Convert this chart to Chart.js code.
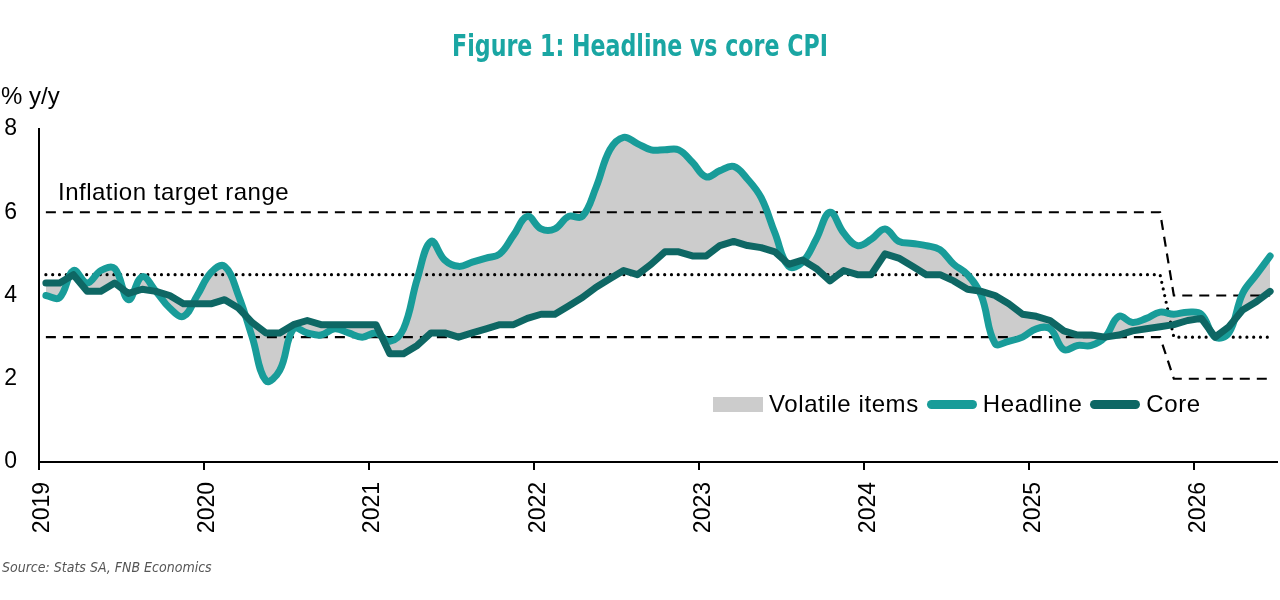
<!DOCTYPE html>
<html>
<head>
<meta charset="utf-8">
<title>Figure 1: Headline vs core CPI</title>
<script src="https://cdn.jsdelivr.net/npm/chart.js@4.4.1/dist/chart.umd.min.js"></script>
<style>
  html, body { margin: 0; padding: 0; background: #fff; }
  body { width: 1280px; height: 600px; position: relative; overflow: hidden;
         font-family: "Liberation Sans", Arial, sans-serif; color: #000; }
  #chart { position: absolute; left: 0; top: 0; width: 1280px; height: 600px; }
  .txt { position: absolute; line-height: 1; white-space: nowrap; }
  .title { left: 0; width: 1280px; top: 31px; text-align: center; font-size: 30px; font-weight: bold;
           font-family: "Liberation Sans Narrow", "DejaVu Sans Condensed", sans-serif; color: #1aa6a3;
           transform: scaleX(0.82); transform-origin: 640px 0; }
  .unit { left: 1px; top: 84px; font-size: 24px; }
  .note { left: 58px; top: 180px; font-size: 24px; letter-spacing: 0.5px; }
  .source { left: 2px; top: 560px; font-size: 14px; font-style: italic; color: #555;
            font-family: "Liberation Sans Narrow", "DejaVu Sans Condensed", sans-serif; }
  #legend { position: absolute; left: 713px; top: 392px; display: flex; align-items: center;
            font-size: 24px; letter-spacing: 0.6px; line-height: 1; }
  #legend .item { display: flex; align-items: center; margin-right: 8px; }
  #legend .icon { width: 50px; margin-right: 6px; }
  #legend .box { height: 15px; }
  #legend .line { height: 9px; border-radius: 5px; }
</style>
</head>
<body>
<canvas id="chart" width="1280" height="600"></canvas>
<div class="txt title">Figure 1: Headline vs core CPI</div>
<div class="txt unit">% y/y</div>
<div class="txt note">Inflation target range</div>
<div class="txt source">Source: Stats SA, FNB Economics</div>
<div id="legend"></div>
<script>
"use strict";

// x axis labels, one per January (monthly data from Jan 2019 to Jun 2026)
const years = ["2019", "2020", "2021", "2022", "2023", "2024", "2025", "2026"];

// Headline CPI, % y/y
const headline = [
    4.0, 3.95, 4.6, 4.3, 4.6, 4.65, 3.9, 4.45, 4.1, 3.7, 3.5, 4.0,
    4.55, 4.7, 4.0, 3.0, 1.95, 2.2, 3.2, 3.1, 3.05, 3.2, 3.1, 3.0,
    3.1, 2.9, 3.2, 4.4, 5.3, 4.85, 4.7, 4.8, 4.9, 5.0, 5.45, 5.9,
    5.6, 5.6, 5.9, 5.9, 6.6, 7.5, 7.8, 7.65, 7.5, 7.5, 7.5, 7.2,
    6.85, 7.0, 7.1, 6.8, 6.35, 5.5, 4.7, 4.8, 5.35, 6.0, 5.5, 5.2,
    5.35, 5.6, 5.3, 5.25, 5.2, 5.1, 4.75, 4.5, 4.0, 2.85, 2.9, 3.0,
    3.2, 3.2, 2.7, 2.8, 2.8, 3.0, 3.5, 3.35, 3.45, 3.6, 3.55, 3.6,
    3.55, 3.0, 3.1, 4.05, 4.5, 4.95
];

// Core CPI, % y/y
const core = [
    4.3, 4.3, 4.5, 4.1, 4.1, 4.3, 4.05, 4.15, 4.1, 4.0, 3.8, 3.8,
    3.8, 3.9, 3.7, 3.35, 3.1, 3.1, 3.3, 3.4, 3.3, 3.3, 3.3, 3.3,
    3.3, 2.6, 2.6, 2.8, 3.1, 3.1, 3.0, 3.1, 3.2, 3.3, 3.3, 3.45,
    3.55, 3.55, 3.75, 3.95, 4.2, 4.4, 4.6, 4.5, 4.75, 5.05, 5.05, 4.95,
    4.95, 5.2, 5.3, 5.2, 5.15, 5.05, 4.75, 4.85, 4.65, 4.35, 4.6, 4.5,
    4.5, 5.0, 4.9, 4.7, 4.5, 4.5, 4.35, 4.15, 4.1, 4.0, 3.8, 3.55,
    3.5, 3.4, 3.15, 3.05, 3.05, 3.0, 3.05, 3.15, 3.2, 3.25, 3.3, 3.4,
    3.45, 3.0, 3.25, 3.65, 3.85, 4.1
];

// Inflation target regimes: month index where each starts, and its band
const targetStart = [0, 82];
const targetLow = [3, 2];
const targetMid = [4.5, 3];
const targetHigh = [6, 4];

const HEADLINE_COLOR = "#189c99";
const CORE_COLOR = "#0e6764";
const VOLATILE_COLOR = "#cccccc";
const FONT = "'Liberation Sans', Arial, sans-serif";

// each monthly value sits in the middle of its month
const toPoints = (values) => values.map((v, i) => ({ x: i + 0.5, y: v }));

function targetSeries(band) {
    return headline.map((v, i) => {
        let k = 0;
        targetStart.forEach((start, r) => { if (i >= start) k = r; });
        return { x: i + 0.5, y: band[k] };
    });
}

const flat = { pointRadius: 0, pointHoverRadius: 0, tension: 0, fill: false };

const ctx = document.getElementById("chart").getContext("2d");
const chart = new Chart(ctx, {
    type: "line",
    data: {
        datasets: [
            { label: "Core", data: toPoints(core), borderColor: CORE_COLOR, borderWidth: 7,
              borderJoinStyle: "round", borderCapStyle: "round", order: 0, ...flat },
            { label: "Headline", data: toPoints(headline), borderColor: HEADLINE_COLOR, borderWidth: 7,
              borderJoinStyle: "round", borderCapStyle: "round", pointRadius: 0, pointHoverRadius: 0,
              tension: 0.4, fill: { target: 0 }, backgroundColor: VOLATILE_COLOR, order: 1 },
            { label: "Upper", data: targetSeries(targetHigh), borderColor: "#000", borderWidth: 2.2,
              borderDash: [10, 7], order: 3, ...flat },
            { label: "Mid", data: targetSeries(targetMid), borderColor: "#000", borderWidth: 3.2,
              borderDash: [0, 6.8], borderCapStyle: "round", order: 3, ...flat },
            { label: "Lower", data: targetSeries(targetLow), borderColor: "#000", borderWidth: 2.2,
              borderDash: [10, 7], order: 3, ...flat }
        ]
    },
    options: {
        responsive: false,
        animation: false,
        events: [],
        layout: { padding: { top: 129, right: 3, bottom: 48, left: 0 } },
        plugins: {
            legend: { display: false },
            tooltip: { enabled: false },
            title: { display: false },
            filler: { drawTime: "beforeDatasetsDraw" }
        },
        scales: {
            x: {
                type: "linear",
                min: 0,
                max: 90,
                afterBuildTicks: (scale) => { scale.ticks = years.map((y, k) => ({ value: k * 12 })); },
                afterFit: (scale) => { scale.height = 90; },
                ticks: {
                    callback: (value) => years[Math.round(value / 12)],
                    minRotation: 90, maxRotation: 90, autoSkip: false,
                    padding: 12, labelOffset: 4, color: "#000",
                    font: { family: FONT, size: 23 }
                },
                grid: { drawOnChartArea: false, drawTicks: true, tickLength: 8, color: "#000", lineWidth: 2 },
                border: { display: true, color: "#000", width: 2 }
            },
            y: {
                min: 0,
                max: 8,
                afterFit: (scale) => { scale.width = 39; },
                ticks: { stepSize: 2, padding: 22, color: "#000", font: { family: FONT, size: 23 } },
                grid: { display: false, drawTicks: false },
                border: { display: true, color: "#000", width: 2 }
            }
        }
    }
});

// Legend drawn inside the plot, like the original
const legendItems = [
    { label: "Volatile items", color: VOLATILE_COLOR, kind: "box" },
    { label: chart.data.datasets[1].label, color: chart.data.datasets[1].borderColor, kind: "line" },
    { label: chart.data.datasets[0].label, color: chart.data.datasets[0].borderColor, kind: "line" }
];
const legend = document.getElementById("legend");
legendItems.forEach(item => {
    const el = document.createElement("div");
    el.className = "item";
    const icon = document.createElement("span");
    icon.className = "icon " + item.kind;
    icon.style.background = item.color;
    const text = document.createElement("span");
    text.textContent = item.label;
    el.appendChild(icon);
    el.appendChild(text);
    legend.appendChild(el);
});
</script>
</body>
</html>
